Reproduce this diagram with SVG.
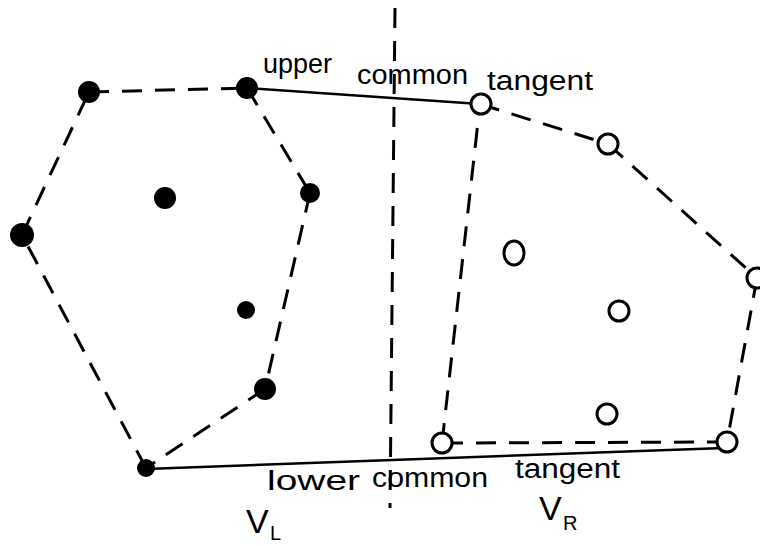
<svg xmlns="http://www.w3.org/2000/svg" width="760" height="546" viewBox="0 0 760 546">
<style>
.dash{stroke:#000;stroke-width:3;stroke-dasharray:20 13;fill:none;stroke-linecap:butt}
.solid{stroke:#000;stroke-width:2.5;fill:none}
.filled{fill:#000}
.hollow{fill:#fff;stroke:#000;stroke-width:3}
.lbl{font-family:"Liberation Sans",Arial,sans-serif;font-size:27px;fill:#000}
.big{font-family:"Liberation Sans",Arial,sans-serif;font-size:34px;fill:#000}
.sub{font-family:"Liberation Sans",Arial,sans-serif;font-size:20px;fill:#000}
</style>
<rect width="760" height="546" fill="#fff"/>
<g id="connectors">
  <line class="dash" x1="395" y1="8" x2="390" y2="508" stroke-dasharray="42 10"/>
  <line class="solid" x1="247" y1="88" x2="480" y2="104"/>
  <line class="solid" x1="146" y1="469" x2="724" y2="448"/>
  <line class="dash" x1="89" y1="92" x2="247" y2="88"/>
  <line class="dash" x1="247" y1="88" x2="310" y2="193"/>
  <line class="dash" x1="310" y1="193" x2="265" y2="389"/>
  <line class="dash" x1="265" y1="389" x2="146" y2="468"/>
  <line class="dash" x1="146" y1="468" x2="22" y2="235"/>
  <line class="dash" x1="22" y1="235" x2="89" y2="92"/>
  <line class="dash" x1="480" y1="104" x2="608" y2="144"/>
  <line class="dash" x1="608" y1="144" x2="757" y2="278"/>
  <line class="dash" x1="757" y1="278" x2="727" y2="442"/>
  <line class="dash" x1="727" y1="442" x2="442" y2="443"/>
  <line class="dash" x1="442" y1="443" x2="480" y2="104"/>
</g>
<g id="left-points">
  <g id="pA"><circle class="filled" cx="89" cy="92" r="11"/></g>
  <g id="pB"><circle class="filled" cx="247" cy="88" r="11"/></g>
  <g id="pC"><circle class="filled" cx="310" cy="193" r="10"/></g>
  <g id="pD"><circle class="filled" cx="22" cy="235" r="12"/></g>
  <g id="pE"><circle class="filled" cx="165" cy="198" r="11"/></g>
  <g id="pF"><circle class="filled" cx="246" cy="310" r="9"/></g>
  <g id="pG"><circle class="filled" cx="265" cy="389" r="11"/></g>
  <g id="pH"><circle class="filled" cx="146" cy="468" r="9"/></g>
</g>
<g id="right-points">
  <g id="pP"><circle class="hollow" cx="481" cy="104" r="10"/></g>
  <g id="pQ"><circle class="hollow" cx="608" cy="144" r="10"/></g>
  <g id="pR"><circle class="hollow" cx="757" cy="278" r="10"/></g>
  <g id="pS"><ellipse class="hollow" cx="514" cy="253" rx="10" ry="12"/></g>
  <g id="pT"><circle class="hollow" cx="619" cy="311" r="10"/></g>
  <g id="pU"><circle class="hollow" cx="607" cy="414" r="10"/></g>
  <g id="pV"><circle class="hollow" cx="442" cy="443" r="10"/></g>
  <g id="pW"><circle class="hollow" cx="727" cy="442" r="10"/></g>
</g>
<g id="labels">
  <text class="lbl" x="263" y="73" textLength="69" lengthAdjust="spacingAndGlyphs">upper</text>
  <text class="lbl" x="357" y="84" textLength="111" lengthAdjust="spacingAndGlyphs">common</text>
  <text class="lbl" x="487" y="90" textLength="106" lengthAdjust="spacingAndGlyphs">tangent</text>
  <text class="lbl" x="267" y="490" textLength="93" lengthAdjust="spacingAndGlyphs">lower</text>
  <text class="lbl" x="372" y="487" textLength="116" lengthAdjust="spacingAndGlyphs">common</text>
  <text class="lbl" x="515" y="478" textLength="105" lengthAdjust="spacingAndGlyphs">tangent</text>
  <text class="big" x="246" y="533">V</text>
  <text class="sub" x="270" y="540">L</text>
  <text class="big" x="539" y="520">V</text>
  <text class="sub" x="563" y="530">R</text>
</g>
</svg>
